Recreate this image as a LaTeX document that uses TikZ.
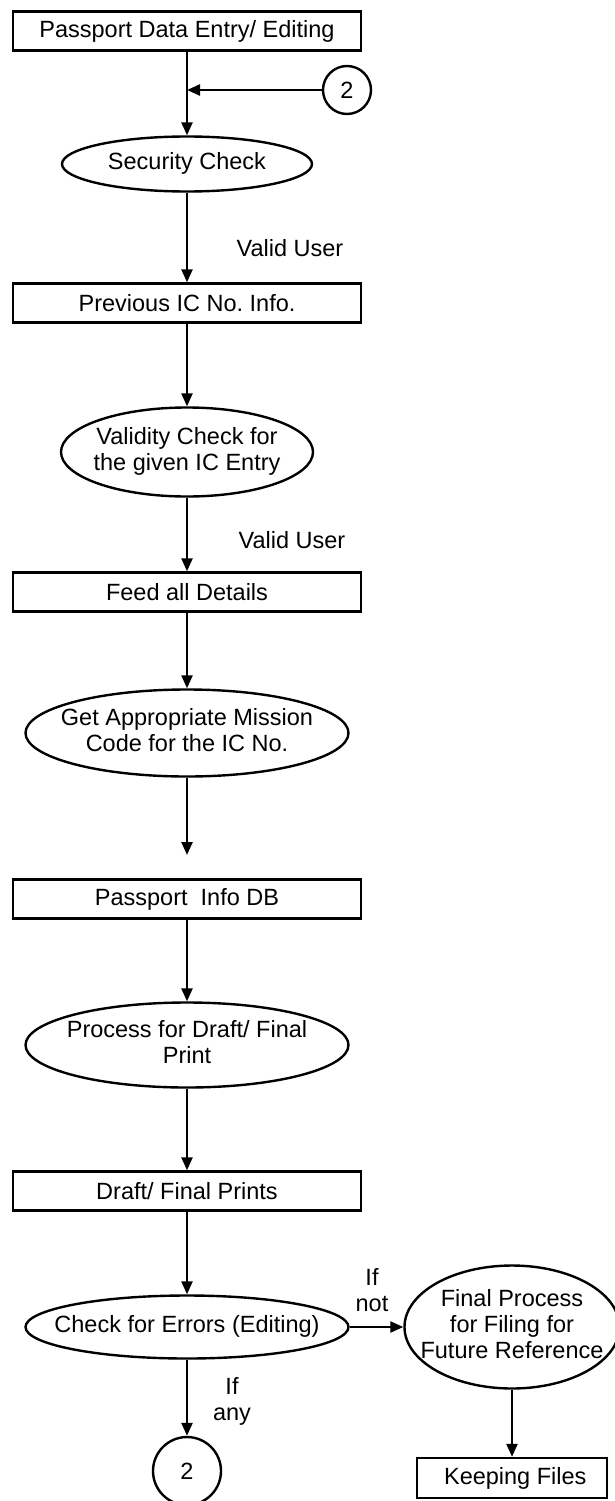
\documentclass[tikz,border=0pt]{standalone}
\usepackage{fontspec}
\setmainfont{Liberation Sans}
\usetikzlibrary{shapes.geometric,arrows.meta}
\frenchspacing
\newcommand{\ovaltext}[1]{\makebox[0pt]{\begin{tabular}{@{}c@{}}#1\end{tabular}}}

\begin{document}
\begin{tikzpicture}[x=1pt,y=-1pt,line width=2.4pt,font=\fontsize{23.5}{26}\selectfont]

        \useasboundingbox (0,0) rectangle (614,1501);

        \begin{scope}[every node/.style={rectangle,draw,minimum width=348pt,minimum height=39pt,inner sep=0pt}]
          \node (1)  at (187,31)   {Passport Data Entry/ Editing};
          \node (3)  at (187,303)  {Previous IC No. Info.};
          \node (5)  at (187,592)  {Feed all Details};
          \node (7)  at (187,899)  {Passport\ \ Info DB};
          \node (9)  at (187,1191) {Draft/ Final Prints};
          \node (12) at (512,1478) [minimum width=190pt,minimum height=40pt] {\ Keeping Files};
        \end{scope}

        \begin{scope}[every node/.style={ellipse,draw,inner sep=0pt}]
          \node (2)  at (187,164)  [minimum width=250pt,minimum height=55pt] {\ovaltext{Security Check}};
          \node (4)  at (187,452)  [minimum width=252pt,minimum height=89pt] {\ovaltext{Validity Check for\\the given IC Entry}};
          \node (6)  at (187,733)  [minimum width=323pt,minimum height=87pt] {\ovaltext{Get Appropriate Mission\\Code for the IC No.}};
          \node (8)  at (187,1045) [minimum width=323pt,minimum height=85pt] {\ovaltext{Process for Draft/ Final\\Print}};
          \node (10) at (187,1327) [minimum width=323pt,minimum height=63pt] {\ovaltext{Check for Errors (Editing)}};
          \node (11) at (512,1327) [minimum width=215pt,minimum height=123pt] {\ovaltext{Final Process\\for Filing for\\Future Reference}};
        \end{scope}

        \begin{scope}[every node/.style={circle,draw,inner sep=0pt}]
          \node (a) at (347,90)   [minimum size=48pt] {2};
          \node (b) at (187,1471) [minimum size=68pt] {2};
        \end{scope}

        \node (v1) at (290,248) {Valid User};
        \node (v2) at (292,540) {Valid User};
        \node (n1) at (372,1290) [align=center] {If\\not};
        \node (n2) at (232,1401) [align=center] {If\\any};

        \coordinate (j) at (187,90);
        \coordinate (g) at (187,855);

        \begin{scope}[every edge/.style={draw,-{Triangle[length=13pt,width=11pt]}}]
          \path (1)  edge (2);
          \path (a)  edge (j);
          \path (2)  edge (3);
          \path (3)  edge (4);
          \path (4)  edge (5);
          \path (5)  edge (6);
          \path (6)  edge (g);
          \path (7)  edge (8);
          \path (8)  edge (9);
          \path (9)  edge (10);
          \path (10) edge (11);
          \path (10) edge (b);
          \path (11) edge (12);
        \end{scope}

      \end{tikzpicture}
\end{document}
